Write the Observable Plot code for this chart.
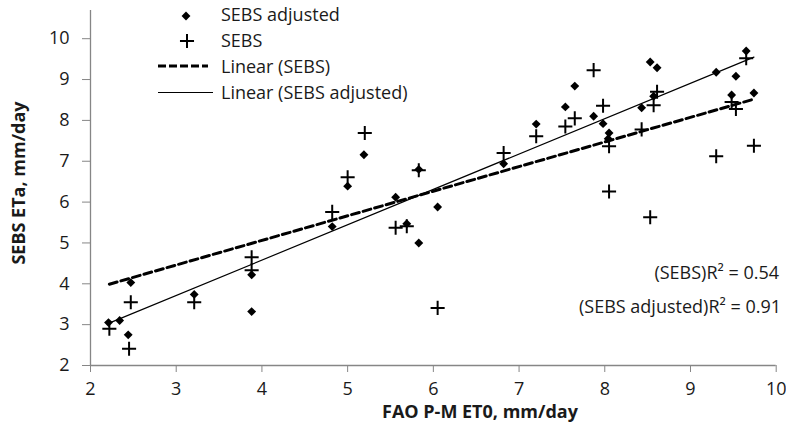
<!DOCTYPE html>
<html>
<head>
<meta charset="utf-8">
<script src="https://cdn.jsdelivr.net/npm/d3@7"></script>
<script src="https://cdn.jsdelivr.net/npm/@observablehq/plot@0.6"></script>
<style>
  html, body { margin: 0; padding: 0; background: #fff; }
  #chart svg { display: block; }
</style>
</head>
<body>
<div id="chart"></div>
<script>
// SEBS adjusted (diamonds)
const adjX = [2.21, 2.34, 2.47, 2.44, 3.21, 3.88, 3.88, 4.82, 5.00, 5.19, 5.56, 5.69, 5.83, 5.83, 6.05, 6.82, 7.20, 7.54, 7.65, 7.87, 7.98, 8.05, 8.04, 8.43, 8.53, 8.61, 8.57, 9.30, 9.53, 9.48, 9.65, 9.74];
const adjY = [3.05, 3.10, 4.03, 2.75, 3.74, 4.22, 3.32, 5.40, 6.39, 7.16, 6.12, 5.47, 6.80, 5.00, 5.88, 6.94, 7.91, 8.33, 8.84, 8.10, 7.92, 7.69, 7.55, 8.31, 9.43, 9.29, 8.59, 9.18, 9.08, 8.62, 9.70, 8.67];
// SEBS (plus)
const sebsX = [2.22, 2.47, 2.45, 3.21, 3.88, 3.88, 4.82, 5.00, 5.20, 5.56, 5.69, 5.83, 6.05, 6.82, 7.20, 7.54, 7.65, 7.87, 7.98, 8.05, 8.05, 8.43, 8.53, 8.57, 8.61, 9.30, 9.48, 9.53, 9.65, 9.74];
const sebsY = [2.90, 3.55, 2.41, 3.55, 4.65, 4.33, 5.76, 6.61, 7.69, 5.37, 5.41, 6.78, 3.41, 7.20, 7.61, 7.85, 8.05, 9.23, 8.36, 7.37, 6.26, 7.78, 5.63, 8.37, 8.70, 7.12, 8.45, 8.28, 9.52, 7.38];
// Trendlines as drawn in the reference (end points)
const trendSebsX = [2.22, 9.74];
const trendSebsY = [3.99, 8.52];
const trendAdjX = [2.21, 9.74];
const trendAdjY = [3.03, 9.55];

const xTicks = [2, 3, 4, 5, 6, 7, 8, 9, 10];
const yTicks = [2, 3, 4, 5, 6, 7, 8, 9, 10];
const legendLabels = ["SEBS adjusted", "SEBS", "Linear (SEBS)", "Linear (SEBS adjusted)"];
const r2Labels = ["(SEBS)R² = 0.54", "(SEBS adjusted)R² = 0.91"];
const xTitle = "FAO P-M ET0, mm/day";
const yTitle = "SEBS ETa, mm/day";

const adj = adjX.map((x, i) => ({x, y: adjY[i]}));
const sebs = sebsX.map((x, i) => ({x, y: sebsY[i]}));
const trendSebs = trendSebsX.map((x, i) => ({x, y: trendSebsY[i]}));
const trendAdj = trendAdjX.map((x, i) => ({x, y: trendAdjY[i]}));

const FONT = "'Open Sans', sans-serif";
const axisColor = "#868686";
const textColor = "#1a1a1a";

const plot = Plot.plot({
  width: 786,
  height: 445,
  marginLeft: 90,
  marginRight: 10.3,
  marginTop: 10,
  marginBottom: 80,
  style: {fontFamily: FONT, background: "#fff", color: textColor},
  x: {domain: [2, 10]},
  y: {domain: [2, 10.69]},
  marks: [
    Plot.ruleX([2], {stroke: axisColor, strokeWidth: 1.3}),
    Plot.ruleY([2], {stroke: axisColor, strokeWidth: 1.3}),
    Plot.axisX({ticks: xTicks, tickSize: 7, tickPadding: 10, fontSize: 18, stroke: axisColor, fill: textColor, label: null, tickFormat: d3.format("d")}),
    Plot.axisY({ticks: yTicks, tickSize: 8, tickPadding: 13, fontSize: 18, stroke: axisColor, fill: textColor, label: null, tickFormat: d3.format("d")}),
    Plot.line(trendSebs, {x: "x", y: "y", stroke: "#000", strokeWidth: 3, strokeDasharray: "8,4"}),
    Plot.line(trendAdj, {x: "x", y: "y", stroke: "#000", strokeWidth: 1.2}),
    Plot.dot(adj, {x: "x", y: "y", symbol: "diamond2", r: 4, fill: "#000", stroke: "none"}),
    Plot.dot(sebs, {x: "x", y: "y", symbol: "plus", r: 4.6, stroke: "#000", strokeWidth: 2, fill: "none"})
  ]
});
document.getElementById("chart").appendChild(plot);

const svg = d3.select(plot);
// Legend
const lg = svg.append("g").attr("font-family", FONT).attr("font-size", 18).attr("fill", textColor).attr("text-anchor", "start");
const rowY = [21, 47, 73, 99];
legendLabels.forEach((t, i) => {
  lg.append("text").attr("x", 221).attr("y", rowY[i]).text(t);
});
lg.append("path").attr("d", d3.symbol(d3.symbolDiamond2, 4 * 4 * Math.PI)())
  .attr("transform", `translate(186,${rowY[0] - 5})`).attr("fill", "#000");
lg.append("path").attr("d", d3.symbol(d3.symbolPlus, 4.6 * 4.6 * Math.PI)())
  .attr("transform", `translate(187,${rowY[1] - 6})`).attr("stroke", "#000").attr("stroke-width", 2).attr("fill", "none");
lg.append("line").attr("x1", 158).attr("x2", 208).attr("y1", rowY[2] - 7).attr("y2", rowY[2] - 7)
  .attr("stroke", "#000").attr("stroke-width", 3).attr("stroke-dasharray", "8,3");
lg.append("line").attr("x1", 158).attr("x2", 213).attr("y1", rowY[3] - 6.5).attr("y2", rowY[3] - 6.5)
  .attr("stroke", "#000").attr("stroke-width", 1.2);

// R² annotations
const ann = svg.append("g").attr("font-family", FONT).attr("font-size", 18).attr("fill", textColor).attr("text-anchor", "end");
ann.append("text").attr("x", 779).attr("y", 279).text(r2Labels[0]);
ann.append("text").attr("x", 781).attr("y", 313).text(r2Labels[1]);

// Axis titles
svg.append("text").attr("font-family", FONT).attr("font-size", 18).attr("font-weight", "bold")
  .attr("fill", textColor).attr("text-anchor", "start").attr("x", 382).attr("y", 418).text(xTitle);
svg.append("text").attr("font-family", FONT).attr("font-size", 18).attr("font-weight", "bold")
  .attr("fill", textColor).attr("text-anchor", "middle")
  .attr("transform", "translate(25,183) rotate(-90)").text(yTitle);
</script>
</body>
</html>
